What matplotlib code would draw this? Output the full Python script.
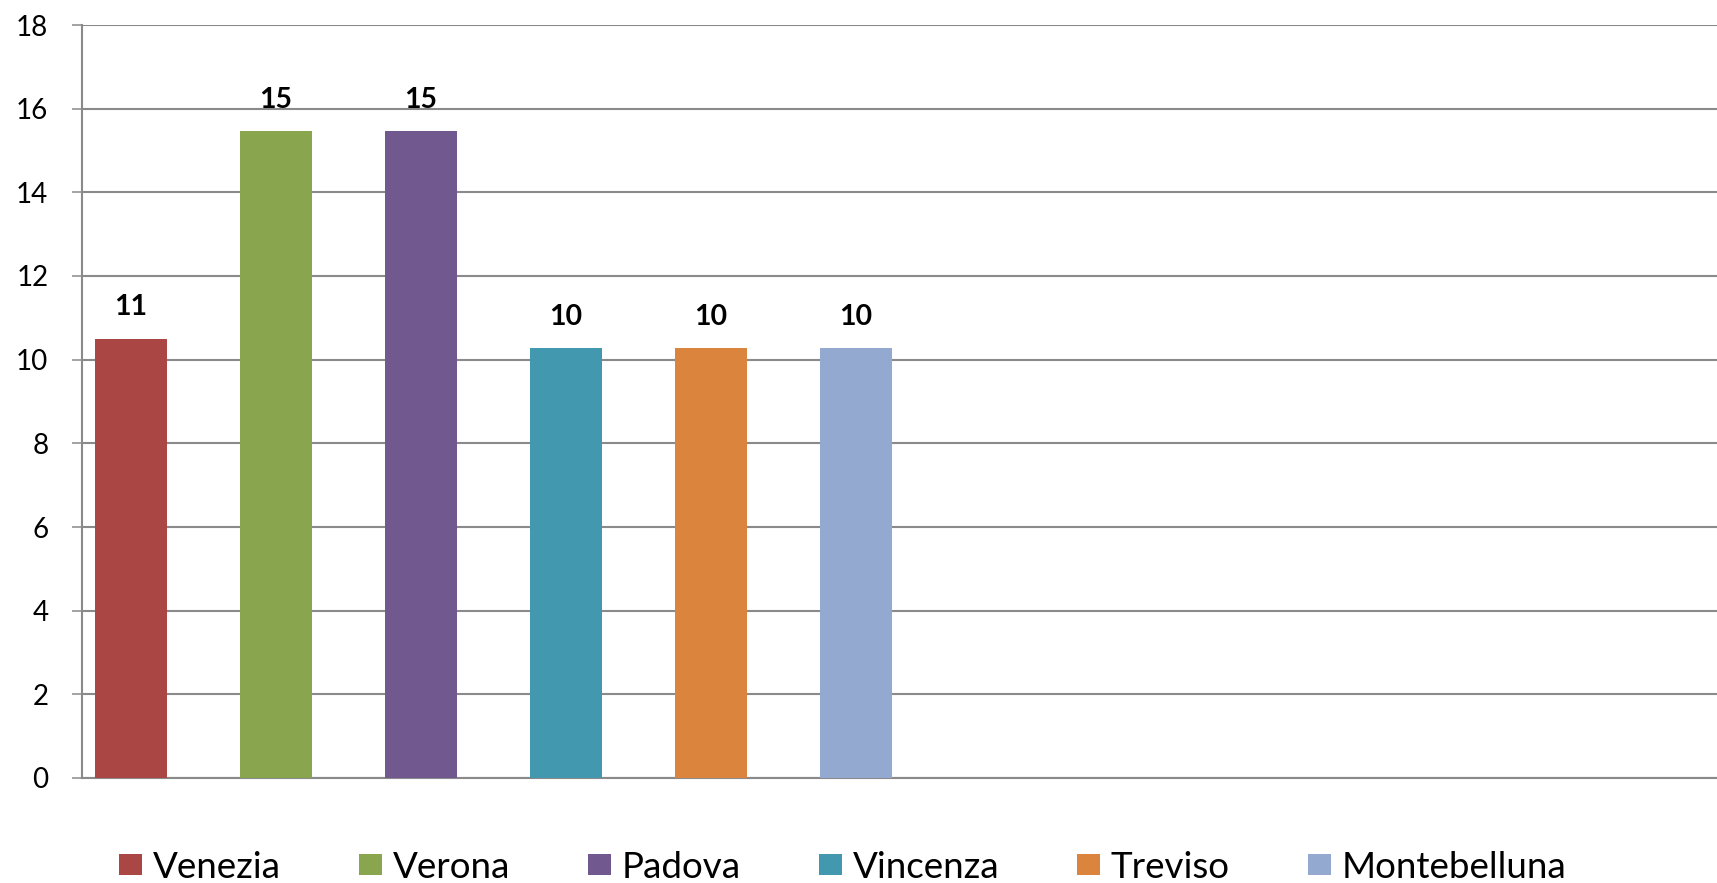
import matplotlib
matplotlib.use("Agg")
import matplotlib.pyplot as plt
from matplotlib.patches import Patch

cities = ["Venezia", "Verona", "Padova", "Vincenza", "Treviso", "Montebelluna"]
values = [10.5, 15.47, 15.47, 10.27, 10.27, 10.27]
labels = ["11", "15", "15", "10", "10", "10"]
colors = ["#AA4643", "#89A54E", "#71588F", "#4198AF", "#DB843D", "#93A9CF"]
yticks = [0, 2, 4, 6, 8, 10, 12, 14, 16, 18]

plt.rcParams['font.family'] = ['Lato', 'DejaVu Sans']

W, H = 1717, 883
fig = plt.figure(figsize=(W / 100, H / 100), dpi=100)
ax = fig.add_axes([81.7 / W, (H - 778) / H, 1 - 81.7 / W, (778 - 25) / H])

pos = list(range(len(cities)))
bars = ax.bar(pos, values, width=0.497, color=colors, zorder=3)
for b, lab in zip(bars, labels):
    ax.annotate(lab, (b.get_x() + b.get_width() / 2, b.get_height()),
                xytext=(0, 16.8), textcoords="offset points",
                ha="center", va="baseline", fontsize=20.5, fontweight="bold",
                color="black")

ax.set_ylim(0, 18)
ax.set_xlim(-0.340, 10.94)
ax.set_yticks(yticks)
ax.set_yticklabels([str(t) for t in yticks], fontsize=20)
ax.set_xticks([])
gc = "#8A8A8A"
ax.yaxis.grid(True, color=gc, linewidth=1.5, zorder=0)
ax.set_axisbelow(True)
for s in ["top", "right"]:
    ax.spines[s].set_visible(False)
for s in ["left", "bottom"]:
    ax.spines[s].set_color(gc)
    ax.spines[s].set_linewidth(1.5)
ax.tick_params(axis="y", length=7.2, width=1.1, color=gc, pad=16.8)

handles = [Patch(facecolor=c, edgecolor="none") for c in colors]
fig.legend(handles, cities, loc="center left", bbox_to_anchor=(119 / W, 16 / H),
           ncol=6, frameon=False, fontsize=26.5, handlelength=0.625,
           handleheight=0.49, handletextpad=0.3, columnspacing=2.11,
           borderpad=0, borderaxespad=0)

fig.savefig("out.png", dpi=100)
